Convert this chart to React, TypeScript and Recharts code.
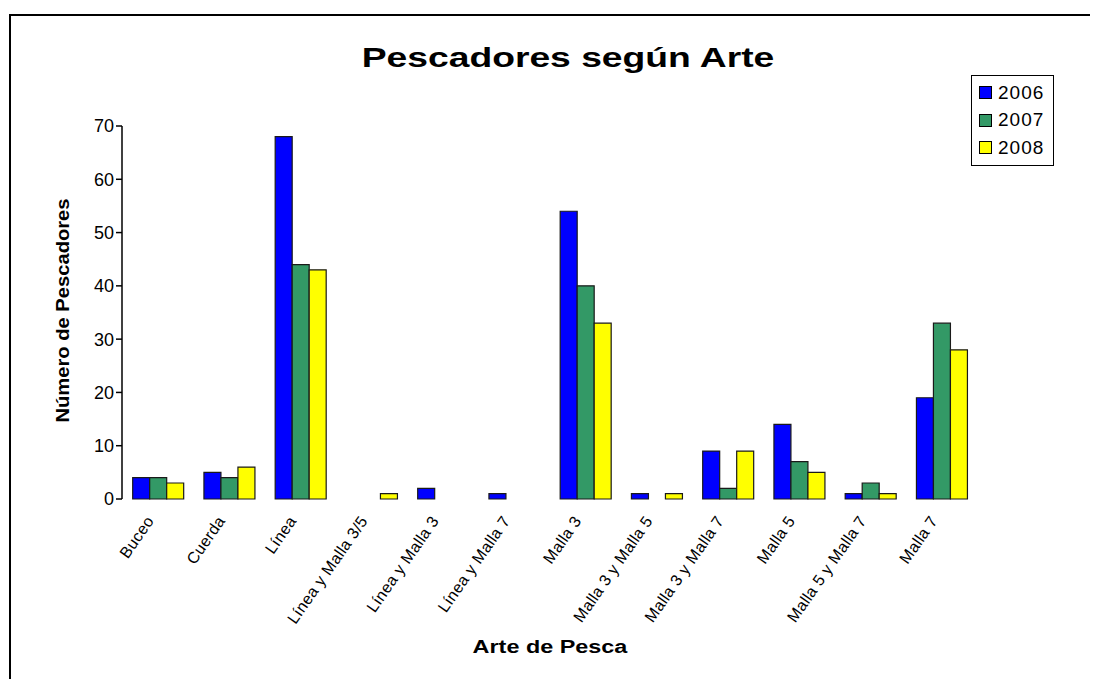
import { BarChart, Bar, XAxis, YAxis } from 'recharts';

const categories = [
  'Buceo',
  'Cuerda',
  'Línea',
  'Línea y Malla 3/5',
  'Línea y Malla 3',
  'Línea y Malla 7',
  'Malla 3',
  'Malla 3 y Malla 5',
  'Malla 3 y Malla 7',
  'Malla 5',
  'Malla 5 y Malla 7',
  'Malla 7',
];

const y2006 = [4, 5, 68, 0, 2, 1, 54, 1, 9, 14, 1, 19];
const y2007 = [4, 4, 44, 0, 0, 0, 40, 0, 2, 7, 3, 33];
const y2008 = [3, 6, 43, 1, 0, 0, 33, 1, 9, 5, 1, 28];

const yTicks = [0, 10, 20, 30, 40, 50, 60, 70];
const boundaryTicks = [0, 1, 2, 3, 4, 5, 6, 7, 8, 9, 10, 11, 12];

const SERIES = [
  { key: '2006', color: '#0000ff' },
  { key: '2007', color: '#339966' },
  { key: '2008', color: '#ffff00' },
];

const FONT = '"Liberation Sans", Arial, sans-serif';

const data = categories.map((name, i) => ({
  name,
  pos: i + 0.5,
  '2006': y2006[i],
  '2007': y2007[i],
  '2008': y2008[i],
}));

function CatTick(props: any) {
  const { x, y, payload } = props;
  const tx = x - 3;
  const ty = y + 14;
  return (
    <text
      x={tx}
      y={ty}
      transform={`rotate(-55, ${tx}, ${ty})`}
      textAnchor="end"
      fontSize={16}
      letterSpacing={0.3}
      fontFamily={FONT}
      fill="#000"
    >
      {payload.value}
    </text>
  );
}

function LegendBox() {
  return (
    <div
      style={{
        position: 'absolute',
        left: 963,
        top: 67,
        border: '1px solid #000',
        background: '#fff',
        width: 74,
        padding: '3px 0 3px 7px',
        fontFamily: FONT,
        fontSize: 19,
        letterSpacing: 1,
      }}
    >
      {SERIES.map((s) => (
        <div key={s.key} style={{ display: 'flex', alignItems: 'center', height: 27.5 }}>
          <span
            style={{
              display: 'inline-block',
              width: 11,
              height: 11,
              background: s.color,
              border: '1px solid #000',
              marginRight: 6,
            }}
          />
          {s.key}
        </div>
      ))}
    </div>
  );
}

const boldText = {
  fontFamily: FONT,
  fontWeight: 'bold' as const,
  whiteSpace: 'nowrap' as const,
  textAlign: 'center' as const,
};

export default function App() {
  return (
    <div style={{ position: 'relative', width: 1090, height: 671, background: '#fff' }}>
      <div
        style={{
          position: 'absolute',
          left: 1,
          top: 6,
          width: 1089,
          height: 665,
          borderLeft: '2px solid #000',
          borderTop: '2px solid #000',
        }}
      />
      <div
        style={{
          ...boldText,
          position: 'absolute',
          left: 260,
          width: 600,
          top: 34,
          fontSize: 28,
          transform: 'scaleX(1.33)',
        }}
      >
        Pescadores según Arte
      </div>
      <div style={{ position: 'absolute', left: 55, top: 303, width: 0, height: 0 }}>
        <div
          style={{
            ...boldText,
            position: 'absolute',
            left: -150,
            top: -11,
            width: 300,
            fontSize: 18,
            transform: 'rotate(-90deg) scaleX(1.12)',
          }}
        >
          Número de Pescadores
        </div>
      </div>
      <div
        style={{
          ...boldText,
          position: 'absolute',
          left: 392,
          width: 300,
          top: 629,
          fontSize: 18,
          transform: 'scaleX(1.3)',
        }}
      >
        Arte de Pesca
      </div>
      <BarChart
        width={1090}
        height={671}
        data={data}
        margin={{ top: 118, right: 121, left: 0, bottom: 0 }}
        barGap={0}
        barCategoryGap="15%"
        style={{ position: 'absolute', left: 0, top: 0 }}
      >
        <XAxis
          xAxisId="b"
          dataKey="pos"
          type="number"
          domain={[0, 12]}
          ticks={boundaryTicks}
          height={0}
          tick={false}
          tickSize={6}
          axisLine={{ stroke: '#000', strokeWidth: 1.5 }}
          tickLine={{ stroke: '#000', strokeWidth: 1.5 }}
        />
        <XAxis
          xAxisId="cat"
          dataKey="name"
          interval={0}
          height={180}
          axisLine={false}
          tickLine={false}
          tick={<CatTick />}
        />
        <YAxis
          width={114}
          domain={[0, 70]}
          ticks={yTicks}
          interval={0}
          tickSize={6}
          axisLine={{ stroke: '#000', strokeWidth: 1.5 }}
          tickLine={{ stroke: '#000', strokeWidth: 1.5 }}
          tick={{ fill: '#000', fontSize: 18, fontFamily: FONT }}
        />
        {SERIES.map((s) => (
          <Bar
            key={s.key}
            xAxisId="cat"
            dataKey={s.key}
            fill={s.color}
            stroke="#1a1a1a"
            strokeWidth={1.2}
            isAnimationActive={false}
          />
        ))}
      </BarChart>
      <LegendBox />
    </div>
  );
}
